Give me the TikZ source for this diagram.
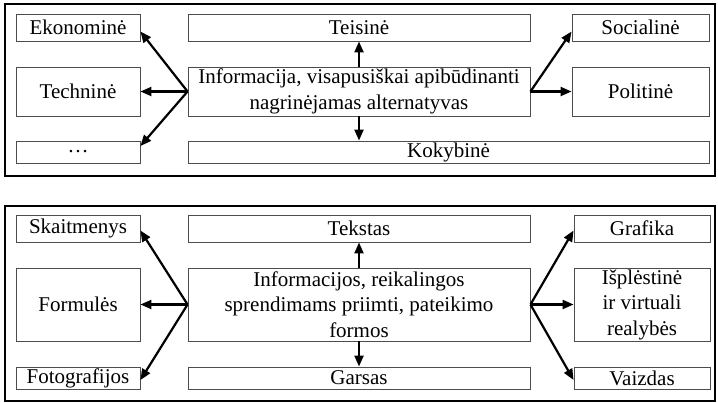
\documentclass[tikz,border=0pt]{standalone}
\usepackage{fontspec}
\setmainfont{Liberation Serif}
\usetikzlibrary{arrows.meta}
\tikzset{
  infobox/.style={draw=black!70, line width=0.9pt, inner sep=0pt, align=center, font=\fontsize{21}{25.5}\selectfont},
  infoarrow/.style={-{Triangle[length=11pt,width=9pt]}, line width=2.2pt},
  panel/.style={draw, line width=2pt}
}
\begin{document}
\begin{tikzpicture}[x=1pt,y=-1pt]
\useasboundingbox (0,0) rectangle (718,402);
% Draw panel frames
\draw[panel] (5,4) rectangle (715,176);
\draw[panel] (5,206) rectangle (715,400.5);

% Top panel boxes
\node[infobox, minimum width=124pt, minimum height=27pt] (ekon) at (78,27.5) {Ekonominė};
\node[infobox, minimum width=124pt, minimum height=49pt] (techn) at (78,91.5) {Techninė};
\node[infobox, minimum width=124pt, minimum height=22pt] (dots) at (78,152) {…};
\node[infobox, minimum width=342pt, minimum height=27pt] (teis) at (359,27.5) {Teisinė};
\node[infobox, minimum width=342pt, minimum height=49pt] (info) at (359,91.5) {Informacija, visapusiškai apibūdinanti\\nagrinėjamas alternatyvas};
\node[infobox, minimum width=521pt, minimum height=22pt] (koky) at (448.5,152) {Kokybinė};
\node[infobox, minimum width=137pt, minimum height=27pt] (soc) at (640.5,27.5) {Socialinė};
\node[infobox, minimum width=137pt, minimum height=49pt] (polit) at (640.5,91.5) {Politinė};

% Top panel arrows
\draw[infoarrow] (info.west) -- ([yshift=-4pt]ekon.east);
\draw[infoarrow] (info.west) -- (techn.east);
\draw[infoarrow] (info.west) -- ([yshift=6pt]dots.east);
\draw[infoarrow] (info.north) -- (teis.south);
\draw[infoarrow] (info.south) -- (info.south |- koky.north);
\draw[infoarrow] (info.east) -- ([yshift=-4pt]soc.west);
\draw[infoarrow] (info.east) -- (polit.west);

% Bottom panel boxes
\node[infobox, minimum width=124pt, minimum height=27pt] (skait) at (78,228.5) {Skaitmenys};
\node[infobox, minimum width=124pt, minimum height=73pt] (form) at (78,304.5) {Formulės};
\node[infobox, minimum width=124pt, minimum height=22pt] (foto) at (78,378) {Fotografijos};
\node[infobox, minimum width=342pt, minimum height=27pt] (teks) at (359,228.5) {Tekstas};
\node[infobox, minimum width=342pt, minimum height=73pt] (forma) at (359,304.5) {Informacijos, reikalingos\\sprendimams priimti, pateikimo\\formos};
\node[infobox, minimum width=342pt, minimum height=22pt] (gars) at (359,378) {Garsas};
\node[infobox, minimum width=136pt, minimum height=27pt] (graf) at (642,228.5) {Grafika};
\node[infobox, minimum width=136pt, minimum height=73pt] (ispl) at (642,304.5) {Išplėstinė\\ir virtuali\\realybės};
\node[infobox, minimum width=136pt, minimum height=22pt] (vaizd) at (642,378) {Vaizdas};

% Bottom panel arrows
\draw[infoarrow] (forma.west) -- ([yshift=-2pt]skait.east);
\draw[infoarrow] (forma.west) -- (form.east);
\draw[infoarrow] (forma.west) -- ([yshift=-2pt]foto.east);
\draw[infoarrow] (forma.north) -- (teks.south);
\draw[infoarrow] (forma.south) -- (gars.north);
\draw[infoarrow] (forma.east) -- ([yshift=-2pt]graf.west);
\draw[infoarrow] (forma.east) -- (ispl.west);
\draw[infoarrow] (forma.east) -- ([yshift=-2pt]vaizd.west);
\end{tikzpicture}
\end{document}
